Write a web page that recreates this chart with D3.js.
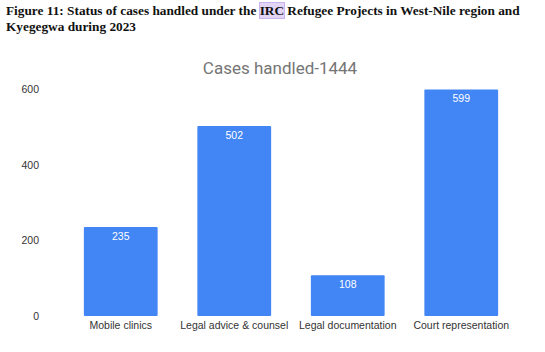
<!DOCTYPE html>
<html>
<head>
<meta charset="utf-8">
<script src="https://cdn.jsdelivr.net/npm/d3@7"></script>
<style>
  body { margin: 0; background: #fff; }
  .caption { position: absolute; left: 6px; top: 3px; width: 535px; font-family: "Liberation Serif", serif; font-weight: bold; font-size: 13.3px; line-height: 16px; color: #111; }
  .caption .hl { background: #e2d5f5; outline: 1px solid #c9b3ee; }
  svg { position: absolute; left: 0; top: 0; }
</style>
</head>
<body>
<div class="caption">Figure 11: Status of cases handled under the <span class="hl">IRC</span> Refugee Projects in West-Nile region and Kyegegwa during 2023</div>
<svg id="chart" width="545" height="352"></svg>
<script>
const categories = ["Mobile clinics", "Legal advice & counsel", "Legal documentation", "Court representation"];
const values = [235, 502, 108, 599];
const yTicks = [0, 200, 400, 600];
const chartTitle = "Cases handled-1444";

const svg = d3.select("#chart");
const plotLeft = 64, plotRight = 518, plotTop = 89, plotBottom = 316;

const x = d3.scaleBand().domain(categories).range([plotLeft, plotRight]).paddingInner(0.35).paddingOuter(0.175);
const y = d3.scaleLinear().domain([0, 600]).range([plotBottom, plotTop]);

svg.append("text")
  .attr("x", 280).attr("y", 74)
  .attr("text-anchor", "middle")
  .style("font-family", "Roboto, Arial, sans-serif")
  .style("font-size", "17px")
  .style("fill", "#757575")
  .text(chartTitle);

// y axis labels only
const yAxis = d3.axisLeft(y).tickValues(yTicks).tickSize(0).tickPadding(0);
svg.append("g")
  .attr("transform", "translate(39,0)")
  .call(yAxis)
  .call(g => g.select(".domain").remove())
  .selectAll("text")
  .style("font-family", "Arial, 'Liberation Sans', sans-serif")
  .style("font-size", "10.5px")
  .style("fill", "#333");

// x axis labels
const xAxis = d3.axisBottom(x).tickSize(0).tickPadding(6);
svg.append("g")
  .attr("transform", "translate(0," + plotBottom + ")")
  .call(xAxis)
  .call(g => g.select(".domain").remove())
  .selectAll("text")
  .style("font-family", "Arial, 'Liberation Sans', sans-serif")
  .style("font-size", "10.5px")
  .style("fill", "#333");

svg.selectAll("rect.bar")
  .data(values)
  .join("rect")
  .attr("class", "bar")
  .attr("x", (d, i) => x(categories[i]))
  .attr("y", d => y(d))
  .attr("width", x.bandwidth())
  .attr("height", d => plotBottom - y(d))
  .attr("rx", 1)
  .style("fill", "#4285f4");

svg.selectAll("text.val")
  .data(values)
  .join("text")
  .attr("class", "val")
  .attr("x", (d, i) => x(categories[i]) + x.bandwidth() / 2)
  .attr("y", d => y(d) + 13)
  .attr("text-anchor", "middle")
  .style("font-family", "Arial, 'Liberation Sans', sans-serif")
  .style("font-size", "10.5px")
  .style("fill", "#fff")
  .text(d => d);
</script>
</body>
</html>
